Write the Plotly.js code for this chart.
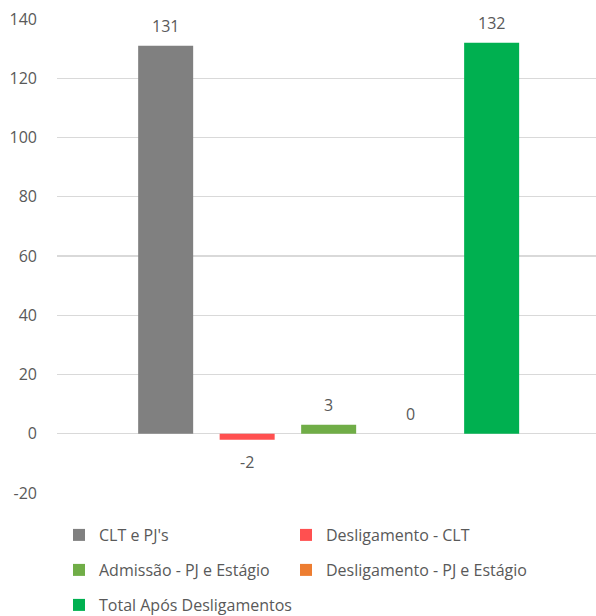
<!DOCTYPE html>
<html>
<head>
<meta charset="utf-8">
<script src="https://cdn.plot.ly/plotly-3.0.1.min.js"></script>
<style>html,body{margin:0;padding:0;background:#fff;}#chart{width:596px;height:616px;}</style>
</head>
<body>
<div id="chart"></div>
<script>
const seriesNames = ["CLT e PJ's", "Desligamento - CLT", "Admissão - PJ e Estágio", "Desligamento - PJ e Estágio", "Total Após Desligamentos"];
const seriesValues = [131, -2, 3, 0, 132];
const seriesColors = ["#808080", "#FF5050", "#70AD47", "#ED7D31", "#00B050"];
const yTicks = [-20, 0, 20, 40, 60, 80, 100, 120, 140];

const FONT = "Open Sans, Noto Sans, sans-serif";
const TXT = "#595959";
const legendIds = ["legend", "legend2", "legend3", "legend4", "legend5"];

const traces = seriesNames.map((name, i) => ({
  type: "bar",
  name: name,
  x: [0],
  y: [seriesValues[i]],
  marker: {color: seriesColors[i]},
  legend: legendIds[i],
  hoverinfo: "none"
}));

const nS = seriesNames.length;
const bargap = 0.244;
const groupW = 1 - bargap;
const slot = groupW / nS;

const annotations = seriesValues.map((v, i) => ({
  xref: "x", yref: "y",
  x: -groupW / 2 + slot * (i + 0.5), y: v,
  text: String(v),
  showarrow: false,
  yanchor: "middle",
  yshift: v < 0 ? -22 : 20,
  font: {family: FONT, size: 16, color: TXT}
}));

// legend grid: two columns, three rows (pixel anchors of each entry)
function legendAt(xpx, ypx) {
  return {
    orientation: "h", x: (xpx - 57) / 539, xanchor: "left",
    y: (493 - ypx) / 474, yanchor: "middle",
    font: {family: FONT, size: 16, color: TXT},
    itemwidth: 30, bgcolor: "rgba(0,0,0,0)"
  };
}
const colX = [59, 286];
const rowY = [535, 570, 605];

const layout = {
  width: 596, height: 616,
  margin: {l: 57, r: 0, t: 19, b: 123, autoexpand: false},
  paper_bgcolor: "#fff", plot_bgcolor: "#fff",
  barmode: "group",
  bargap: bargap,
  bargroupgap: 0.325,
  showlegend: true,
  xaxis: {type: "linear", showticklabels: false, showgrid: false, zeroline: false, showline: false, ticks: "", range: [-0.504, 0.496], fixedrange: true},
  yaxis: {
    range: [-20, 140], tickvals: yTicks, ticktext: yTicks.map(String),
    showgrid: true, gridcolor: "#D9D9D9", gridwidth: 1.3,
    zeroline: true, zerolinecolor: "#D9D9D9", zerolinewidth: 1.3,
    showline: false, ticks: "", ticklabelstandoff: 19,
    tickfont: {family: FONT, size: 16, color: TXT}
  },
  annotations: annotations
};
legendIds.forEach((id, i) => {
  layout[id] = legendAt(colX[i % 2], rowY[Math.floor(i / 2)]);
});

Plotly.newPlot("chart", traces, layout, {displayModeBar: false, staticPlot: true});
</script>
</body>
</html>
